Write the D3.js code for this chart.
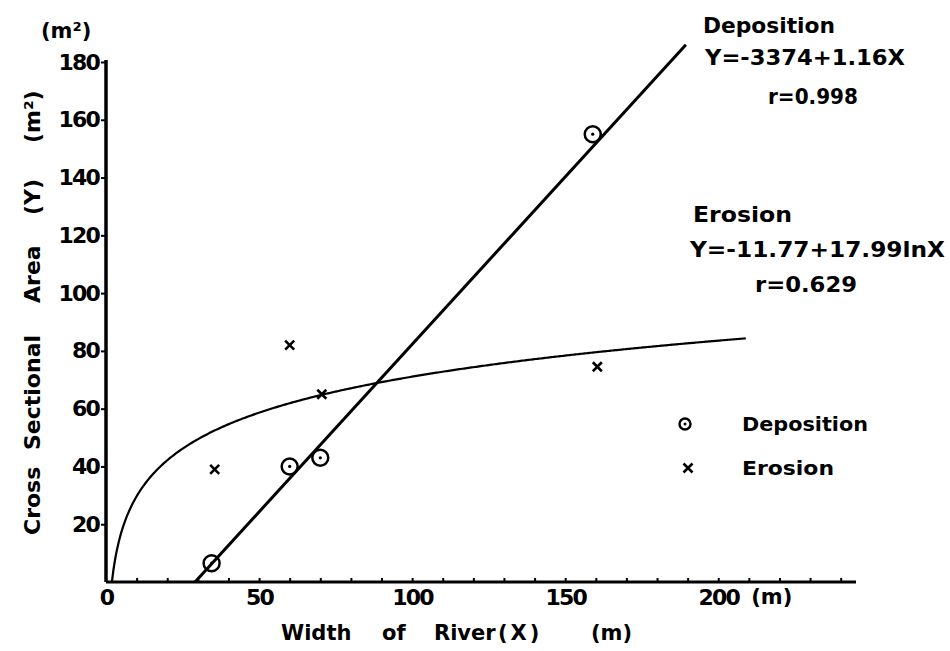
<!DOCTYPE html>
<html>
<head>
<meta charset="utf-8">
<script src="https://cdn.jsdelivr.net/npm/d3@7/dist/d3.min.js"></script>
<style>
  html, body { margin: 0; padding: 0; background: #fff; }
  svg { display: block; }
  text { font-family: "DejaVu Sans", sans-serif; font-weight: bold; fill: #000; }
</style>
</head>
<body>
<svg id="chart" width="950" height="651"></svg>
<script>
// Observed cross-sectional areas at each river width
const depositionX = [34.5, 60, 70, 159];
const depositionY = [6.5, 40, 43, 155];
const erosionX = [35.5, 60, 70.5, 160.5];
const erosionY = [39, 82, 65, 74.5];

// Fitted relations
const depIntercept = -33.74, depSlope = 1.16;      // Y = a + bX
const eroIntercept = -11.77, eroCoef = 17.99;      // Y = a + b lnX

const yTicks = [20, 40, 60, 80, 100, 120, 140, 160, 180];
const xLabelTicks = [0, 50, 100, 150, 200];
const xMinorTicks = d3.range(10, 250, 10);

const svg = d3.select("#chart");

const x = d3.scaleLinear().domain([0, 245]).range([106, 856]);
const y = d3.scaleLinear().domain([0, 180]).range([582, 62]);

// ---- axes ----
const yAxis = d3.axisLeft(y).tickValues(yTicks).tickSize(5).tickSizeOuter(0).tickPadding(2)
  .tickFormat(d3.format("d"));
const gy = svg.append("g").attr("transform", `translate(${x(0)},0)`).call(yAxis);
gy.select(".domain").attr("stroke-width", 3.5).attr("d", `M0,${y(0)}V${y(180) - 2}`);
gy.selectAll(".tick line").attr("stroke-width", 2);
gy.selectAll(".tick text").style("font-size", "22px").attr("font-family", null)
  .style("letter-spacing", "-1.8px");

const xAxisMinor = d3.axisTop(x).tickValues(xMinorTicks).tickSize(4).tickSizeOuter(0).tickFormat("");
const gx = svg.append("g").attr("transform", `translate(0,${y(0)})`).call(xAxisMinor);
gx.select(".domain").attr("stroke-width", 3).attr("d", `M${x(0)},0H${x(245)}`);
gx.selectAll(".tick line").attr("stroke-width", 2);

const xAxisLabels = d3.axisBottom(x).tickValues(xLabelTicks).tickSize(0).tickPadding(7)
  .tickFormat(d3.format("d"));
const gxl = svg.append("g").attr("transform", `translate(0,${y(0)})`).call(xAxisLabels);
gxl.select(".domain").remove();
gxl.selectAll(".tick text").style("font-size", "22px").attr("font-family", null)
  .style("letter-spacing", "-1.8px");

svg.append("text").attr("x", x(200) + 33).attr("y", y(0) + 7).attr("dy", "0.71em")
  .style("font-size", "21px").text("(m)");

// axis titles
svg.append("text").attr("x", 41).attr("y", 38).style("font-size", "21px").text("(m²)");

const yTitle = svg.append("text")
  .attr("transform", "translate(40,0) rotate(-90)")
  .style("font-size", "22px");
[["Cross", 535], ["Sectional", 450], ["Area", 303], ["(Y)", 215], ["(m²)", 143]]
  .forEach(([w, py]) => yTitle.append("tspan").attr("x", -py).attr("y", 0).text(w));

const xTitle = svg.append("text").attr("y", 640).style("font-size", "21px");
[["Width", 281, 0], ["of", 382, 0], ["River", 434, 0], ["(X)", 498, 3], ["(m)", 591, 0]]
  .forEach(([w, px, ls]) => xTitle.append("tspan").attr("x", px).style("letter-spacing", ls + "px").text(w));

// ---- fitted lines ----
const depLine = d3.line().x(d => x(d[0])).y(d => y(d[1]));
const depX0 = -depIntercept / depSlope;
const depX1 = (186 - depIntercept) / depSlope;
svg.append("path")
  .attr("d", depLine([[depX0, 0], [depX1, depIntercept + depSlope * depX1]]))
  .attr("fill", "none").attr("stroke", "#000").attr("stroke-width", 3);

const eroStart = Math.exp(-eroIntercept / eroCoef);
const eroXs = d3.range(eroStart, 209, 0.5).concat([209]);
svg.append("path")
  .attr("d", depLine(eroXs.map(v => [v, eroIntercept + eroCoef * Math.log(v)])))
  .attr("fill", "none").attr("stroke", "#000").attr("stroke-width", 2.2);

// ---- data marks ----
function circleMark(g, cx, cy) {
  g.append("circle").attr("cx", cx).attr("cy", cy).attr("r", 8)
    .attr("fill", "none").attr("stroke", "#000").attr("stroke-width", 2.5);
  g.append("circle").attr("cx", cx).attr("cy", cy).attr("r", 1.6).attr("fill", "#000");
}
function crossMark(g, cx, cy) {
  const s = 4.5;
  g.append("path").attr("d", `M${cx - s},${cy - s}L${cx + s},${cy + s}M${cx - s},${cy + s}L${cx + s},${cy - s}`)
    .attr("stroke", "#000").attr("stroke-width", 2.6).attr("fill", "none");
}
const marks = svg.append("g");
depositionX.forEach((v, i) => circleMark(marks, x(v), y(depositionY[i])));
erosionX.forEach((v, i) => crossMark(marks, x(v), y(erosionY[i])));

// ---- equations ----
const eq = svg.append("g");
eq.append("text").attr("x", 703).attr("y", 33).attr("textLength", 132).attr("lengthAdjust", "spacingAndGlyphs")
  .style("font-size", "21px").text("Deposition");
eq.append("text").attr("x", 705).attr("y", 65).attr("textLength", 200).attr("lengthAdjust", "spacingAndGlyphs")
  .style("font-size", "21px").text("Y=-3374+1.16X");
eq.append("text").attr("x", 768).attr("y", 104).attr("textLength", 90).attr("lengthAdjust", "spacingAndGlyphs")
  .style("font-size", "21px").text("r=0.998");

eq.append("text").attr("x", 693).attr("y", 222).attr("textLength", 99).attr("lengthAdjust", "spacingAndGlyphs")
  .style("font-size", "21px").text("Erosion");
eq.append("text").attr("x", 690).attr("y", 257).attr("textLength", 255).attr("lengthAdjust", "spacingAndGlyphs")
  .style("font-size", "21px").text("Y=-11.77+17.99lnX");
eq.append("text").attr("x", 755).attr("y", 292).attr("textLength", 102).attr("lengthAdjust", "spacingAndGlyphs")
  .style("font-size", "21px").text("r=0.629");

// ---- legend ----
const lg = svg.append("g");
lg.append("circle").attr("cx", 685).attr("cy", 424).attr("r", 5.5)
  .attr("fill", "none").attr("stroke", "#000").attr("stroke-width", 2.4);
lg.append("circle").attr("cx", 685).attr("cy", 424).attr("r", 1.5).attr("fill", "#000");
lg.append("text").attr("x", 742).attr("y", 431).attr("textLength", 126).attr("lengthAdjust", "spacingAndGlyphs")
  .style("font-size", "20px").text("Deposition");
crossMark(lg, 688, 468);
lg.append("text").attr("x", 742).attr("y", 475).attr("textLength", 92).attr("lengthAdjust", "spacingAndGlyphs")
  .style("font-size", "20px").text("Erosion");
</script>
</body>
</html>
